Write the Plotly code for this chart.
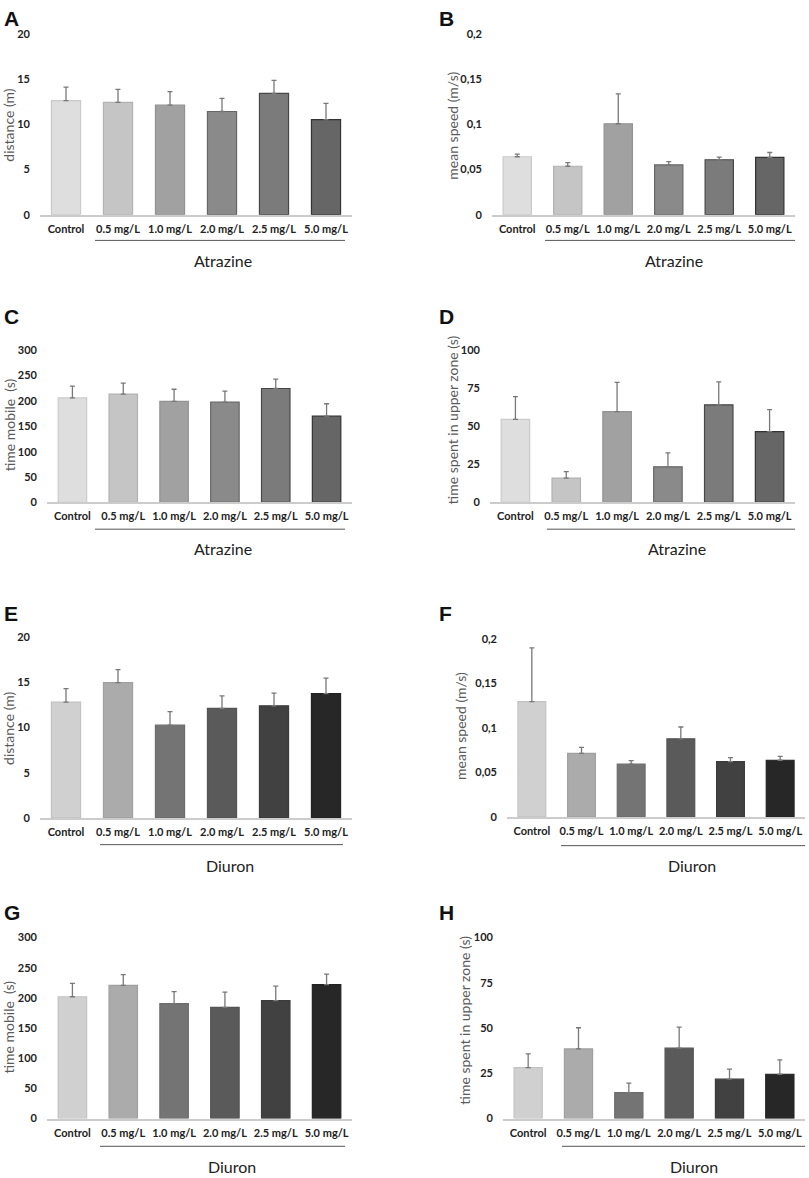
import plotly.graph_objects as go

W, H = 809, 1178

categories = ["Control", "0.5 mg/L", "1.0 mg/L", "2.0 mg/L", "2.5 mg/L", "5.0 mg/L"]

# Atrazine
atz_distance = [12.6, 12.4, 12.1, 11.4, 13.4, 10.5]
atz_distance_sem = [1.5, 1.45, 1.5, 1.45, 1.45, 1.8]
atz_speed = [0.064, 0.0535, 0.1005, 0.055, 0.0607, 0.0633]
atz_speed_sem = [0.003, 0.004, 0.033, 0.0036, 0.003, 0.0054]
atz_mobile = [206, 213.5, 199, 197.5, 224.5, 170]
atz_mobile_sem = [23, 21.5, 24, 22, 18.5, 24.5]
atz_upper = [54.5, 16, 59.7, 23.4, 64.1, 46.5]
atz_upper_sem = [15, 4.3, 19.1, 9.1, 15.1, 14.5]

# Diuron
diu_distance = [12.8, 14.95, 10.25, 12.1, 12.4, 13.75]
diu_distance_sem = [1.5, 1.45, 1.5, 1.4, 1.4, 1.7]
diu_speed = [0.1295, 0.0715, 0.0593, 0.0878, 0.0622, 0.0637]
diu_speed_sem = [0.0605, 0.0066, 0.004, 0.0133, 0.0045, 0.0044]
diu_mobile = [202, 221, 190.5, 184.5, 195.5, 222]
diu_mobile_sem = [22, 17.5, 20, 25, 24, 17.5]
diu_upper = [28.2, 38.5, 14.4, 38.9, 21.8, 24.5]
diu_upper_sem = [7.6, 11.7, 5.2, 11.6, 5.5, 8.0]

atz_fill = ["#dedede", "#c5c5c5", "#a1a1a1", "#8a8a8a", "#7b7b7b", "#666666"]
atz_edge = ["#cacaca", "#b2b2b2", "#929292", "#666666", "#474747", "#333333"]
diu_fill = ["#d0d0d0", "#ababab", "#747474", "#5a5a5a", "#414141", "#272727"]
diu_edge = ["#c2c2c2", "#a0a0a0", "#6c6c6c", "#545454", "#3c3c3c", "#222222"]

# letter, values, sem, y title, group, fill, edge, x px (left,right), y px (top,bottom),
# y max, dtick, letter pos, title pos, underline (x0,x1,y), group label pos
panels = [
    ("A", atz_distance, atz_distance_sem, "distance (m)", "Atrazine", atz_fill, atz_edge,
     (40, 352), (27, 210), 20, 5, (2, 12), (9, 120), (95, 345, 236), (223, 256)),
    ("B", atz_speed, atz_speed_sem, "mean speed (m/s)", "Atrazine", atz_fill, atz_edge,
     (492, 795), (27, 210), 0.2, 0.05, (437, 12), (453, 120), (545, 795, 236), (674, 256)),
    ("C", atz_mobile, atz_mobile_sem, "time mobile  (s)", "Atrazine", atz_fill, atz_edge,
     (47, 352), (347, 501), 300, 50, (2, 313), (9, 423), (95, 345, 528), (223, 548)),
    ("D", atz_upper, atz_upper_sem, "time spent in upper zone (s)", "Atrazine", atz_fill, atz_edge,
     (490, 795), (347, 501), 100, 25, (437, 313), (452, 417), (547, 795, 528), (677, 548)),
    ("E", diu_distance, diu_distance_sem, "distance (m)", "Diuron", diu_fill, diu_edge,
     (40, 352), (637, 820), 20, 5, (2, 613), (9, 730), (100, 343, 847), (230, 868)),
    ("F", diu_speed, diu_speed_sem, "mean speed (m/s)", "Diuron", diu_fill, diu_edge,
     (507, 805), (639, 819), 0.2, 0.05, (437, 613), (461, 727), (561, 805, 848), (692, 868)),
    ("G", diu_mobile, diu_mobile_sem, "time mobile  (s)", "Diuron", diu_fill, diu_edge,
     (47, 352), (941, 1124), 300, 50, (2, 916), (9, 1032), (100, 345, 1152), (232, 1172)),
    ("H", diu_upper, diu_upper_sem, "time spent in upper zone (s)", "Diuron", diu_fill, diu_edge,
     (503, 805), (941, 1124), 100, 25, (437, 916), (465, 1025), (562, 805, 1152), (694, 1172)),
]

def px(x):
    return x / W

def py(y):
    return 1 - y / H

fig = go.Figure()
annotations = []
shapes = []
layout_axes = {}

for n, (letter, vals, sem, ytitle, group, fill, edge, xpx, ypx, ymax, dtick,
        lpos, tpos, uline, gpos) in enumerate(panels, start=1):
    sfx = "" if n == 1 else str(n)
    fig.add_trace(go.Bar(
        x=categories, y=vals,
        xaxis="x" + sfx, yaxis="y" + sfx,
        width=0.56,
        marker=dict(color=fill, line=dict(color=edge, width=1.2)),
        error_y=dict(type="data", symmetric=False, array=sem,
                     arrayminus=[0] * len(sem), color="#787878",
                     thickness=1.3, width=2.5),
        showlegend=False,
    ))
    layout_axes["xaxis" + sfx] = dict(
        domain=[px(xpx[0]), px(xpx[1])], anchor="y" + sfx,
        type="category", range=[-0.5, 5.5],
        showline=True, linecolor="#cccccc", linewidth=1.5,
        showgrid=False, zeroline=False, ticks="",
        tickfont=dict(family="Lato", size=11, color="#222222", weight="bold"),
        ticklabelstandoff=3, fixedrange=True,
    )
    layout_axes["yaxis" + sfx] = dict(
        domain=[py(ypx[1]), py(ypx[0])], anchor="x" + sfx,
        range=[0, ymax], dtick=dtick, tick0=0,
        showline=False, showgrid=False, zeroline=False, ticks="",
        tickfont=dict(family="Lato", size=11, color="#222222", weight="bold"),
        ticklabelstandoff=9, fixedrange=True,
    )
    annotations.append(dict(
        text=letter, x=px(lpos[0]), y=py(lpos[1]), xref="paper", yref="paper",
        xanchor="left", yanchor="middle", showarrow=False,
        font=dict(family="Liberation Sans", size=21, color="#111111", weight="bold"),
    ))
    annotations.append(dict(
        text=ytitle, x=px(tpos[0]), y=py(tpos[1]), xref="paper", yref="paper",
        xanchor="center", yanchor="middle", textangle=-90, showarrow=False,
        font=dict(family="Lato", size=14, color="#5a5a5a"),
    ))
    annotations.append(dict(
        text=group, x=px(gpos[0]), y=py(gpos[1]), xref="paper", yref="paper",
        xanchor="center", yanchor="middle", showarrow=False,
        font=dict(family="Lato", size=16, color="#222222"),
    ))
    shapes.append(dict(
        type="line", xref="paper", yref="paper",
        x0=px(uline[0]), x1=px(uline[1]), y0=py(uline[2]), y1=py(uline[2]),
        line=dict(color="#555555", width=1),
    ))

fig.update_layout(
    width=W, height=H,
    margin=dict(l=0, r=0, t=0, b=0),
    paper_bgcolor="white", plot_bgcolor="white",
    separators=",.",
    bargap=0.44,
    annotations=annotations,
    shapes=shapes,
    **layout_axes,
)

fig.write_html(
    "out.html",
    config={"displayModeBar": False},
    post_script="document.body.style.margin='0';document.body.style.overflow='hidden';",
)
